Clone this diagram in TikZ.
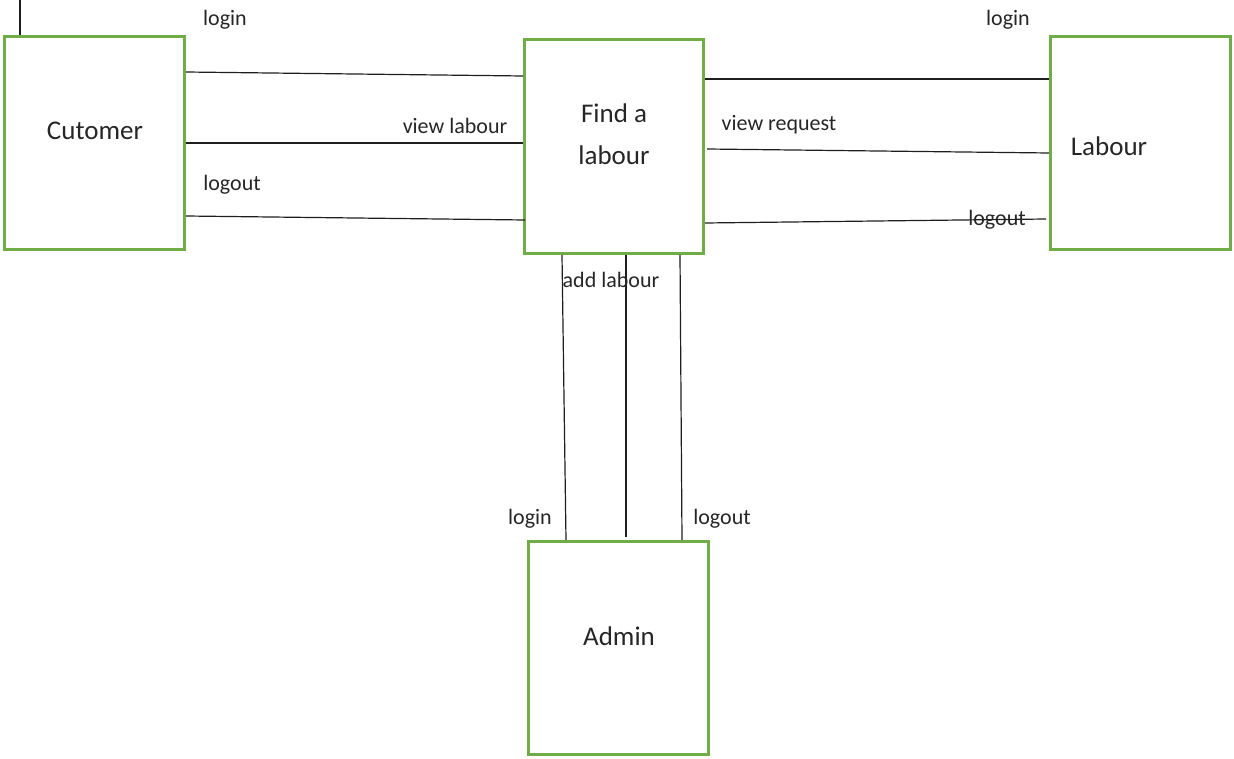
\documentclass[tikz,border=0pt]{standalone}
\usepackage{fontspec}
\setmainfont{Carlito}
\usepackage{tikz}
\definecolor{boxgreen}{RGB}{112, 173, 71}
\definecolor{linegray}{RGB}{30, 30, 30}
\tikzset{every picture/.style={line width=1.2pt}}
\tikzset{
  actor/.style={draw=boxgreen, line width=3pt, minimum width=180pt, minimum height=213pt, inner sep=0pt},
  actortext/.style={font=\fontsize{27}{42}\selectfont, align=center, inner sep=0pt, text=black!85},
  flowtext/.style={font=\fontsize{22}{26}\selectfont, inner sep=0pt, text=black!85},
  flow/.style={draw=linegray, line width=1.2pt}
}

\begin{document}
\begin{tikzpicture}[x=1pt,y=1pt,yscale=-1]
\useasboundingbox (0,0) rectangle (1234,759);

%Boxes
\node [actor] (cust) at (94.5,143) {};
\node [actor, minimum width=179pt, minimum height=214pt] (find) at (614,146.5) {};
\node [actor] (lab) at (1140.5,143) {};
\node [actor] (adm) at (618.5,648) {};

% Box texts
\node [actortext] (custtxt) at (95,131) {Cutomer};
\node [actortext] (findtxt) at (614,134) {Find a\\labour};
\node [actortext] (labtxt) at (1109,146) {Labour};
\node [actortext] (admtxt) at (619,636) {Admin};

%Straight Lines (yshift points down here, as y is flipped)
\coordinate (top) at (20,0);
\draw [flow] (top) -- ([xshift=17pt]cust.north west);
\draw [flow] ([yshift=37pt]cust.north east) -- ([yshift=38pt]find.north west);
\draw [flow] (cust.east) -- ([yshift=-3.5pt]find.west);
\draw [flow] ([yshift=-35pt]cust.south east) -- ([yshift=-35pt,xshift=2pt]find.south west);
\draw [flow] ([yshift=41pt]find.north east) -- ([yshift=44pt]lab.north west);
\draw [flow] ([yshift=2.5pt,xshift=2pt]find.east) -- ([yshift=10pt]lab.west);
\draw [flow] ([yshift=-32pt]find.south east) -- ([yshift=-32pt,xshift=-3pt]lab.south west);
\draw [flow] ([xshift=39pt]find.south west) -- ([xshift=39pt]adm.north west);
\draw [flow] ([xshift=12pt]find.south) -- ([xshift=7.5pt,yshift=-3pt]adm.north);
\draw [flow] ([xshift=-25pt]find.south east) -- ([xshift=-28pt]adm.north east);

% Text Node
\node [flowtext] (t1) at (225,20) {login};
\node [flowtext] (t2) at (455,126) {view labour};
\node [flowtext] (t3) at (232,185) {logout};
\node [flowtext] (t4) at (1008,20) {login};
\node [flowtext] (t5) at (779,125) {view request};
\node [flowtext] (t6) at (997,220) {logout};
\node [flowtext] (t7) at (611,280) {add labour};
\node [flowtext] (t8) at (530,519) {login};
\node [flowtext] (t9) at (722,519) {logout};

\end{tikzpicture}
\end{document}
